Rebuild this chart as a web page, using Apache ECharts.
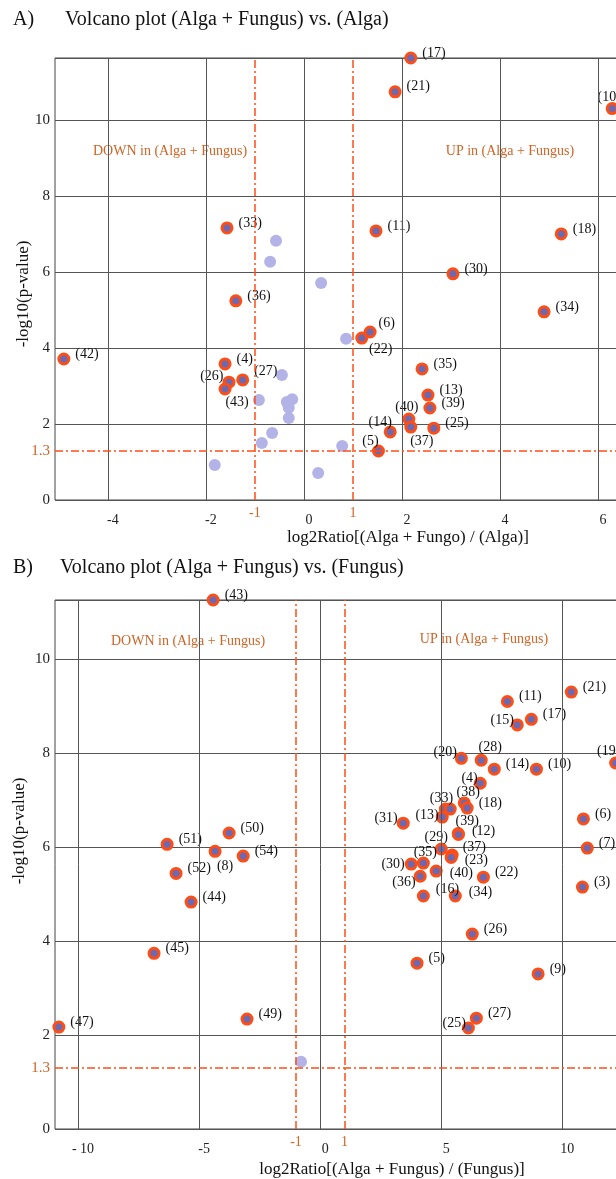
<!DOCTYPE html>
<html>
<head>
<meta charset="utf-8">
<script src="https://cdn.jsdelivr.net/npm/echarts@6/dist/echarts.min.js"></script>
<style>
  html, body { margin: 0; background: #fff; }
  #chart { width: 616px; height: 1179px; }
</style>
</head>
<body>
<div id="chart"></div>
<script>
// A) (Alga + Fungus) vs. (Alga)
const idsA = ["17", "21", "10", "11", "18", "30", "33", "36", "42", "4", "26", "27", "43", "34", "6", "22", "35", "13", "39", "40", "37", "25", "14", "5"];
const xA = [2.18, 1.86, 6.29, 1.47, 5.25, 3.04, -1.57, -1.39, -4.9, -1.61, -1.53, -1.25, -1.61, 4.9, 1.35, 1.18, 2.41, 2.53, 2.57, 2.14, 2.18, 2.65, 1.76, 1.52];
const yA = [11.63, 10.74, 10.3, 7.08, 7.0, 5.95, 7.16, 5.24, 3.71, 3.58, 3.1, 3.16, 2.92, 4.95, 4.42, 4.26, 3.45, 2.76, 2.42, 2.13, 1.92, 1.89, 1.79, 1.29];
const nsXA = [-0.57, -0.69, 0.35, 0.86, 0.78, 0.29, -0.45, -0.92, -0.35, -0.24, -0.31, -0.31, -0.65, -0.86, -1.82];
const nsYA = [6.82, 6.27, 5.71, 4.24, 1.42, 0.71, 3.29, 2.63, 2.58, 2.65, 2.43, 2.16, 1.76, 1.5, 0.92];

// B) (Alga + Fungus) vs. (Fungus)
const idsB = ["43", "51", "50", "8", "54", "52", "44", "45", "47", "49",
  "21", "11", "17", "15", "20", "28", "14", "10", "19", "4", "38", "18", "33", "", "13", "31", "39", "12", "29", "7", "6",
  "37", "23", "35", "30", "40", "36", "22", "16", "34", "3", "26", "5", "9", "27", "25"];
const xB = [-4.42, -6.32, -3.76, -4.34, -3.18, -5.95, -5.33, -6.86, -10.79, -3.02,
  10.37, 7.73, 8.72, 8.14, 5.83, 6.65, 7.19, 8.93, 12.2, 6.61, 5.95, 6.07, 5.17, 5.37, 5.04, 3.43, 5.7, 5.71, 5.0, 11.03, 10.87,
  5.45, 5.41, 4.26, 3.76, 4.79, 4.13, 6.74, 4.26, 5.58, 10.83, 6.28, 4.0, 9.0, 6.45, 6.12];
const yB = [11.26, 6.06, 6.3, 5.91, 5.81, 5.44, 4.83, 3.74, 2.17, 2.34,
  9.3, 9.1, 8.72, 8.6, 7.89, 7.85, 7.66, 7.66, 7.79, 7.36, 6.94, 6.83, 6.81, 6.81, 6.64, 6.51, 6.29, 6.27, 5.96, 5.98, 6.6,
  5.83, 5.78, 5.66, 5.64, 5.49, 5.38, 5.36, 4.96, 4.96, 5.15, 4.15, 3.53, 3.3, 2.36, 2.15];
const nsXB = [-0.79];
const nsYB = [1.43];

// axes
const gridXA = [-4, -2, 0, 2, 4, 6];
const gridXB = [-10, -5, 0, 5, 10];
const tickXA = [-4, -2, -1, 0, 1, 2, 4, 6];
const tickXB = [-10, -5, -1, 0, 1, 5, 10];
const tickY = [0, 1.3, 2, 4, 6, 8, 10];
const foldCut = 1;
const pCut = 1.3;

// label placement: [position, offset]
const placeA = {
  "10": ["top", [-3, 7]], "26": ["left", [6, -6]], "27": ["right", [0, -9]],
  "43": ["bottom", [12, -5]], "6": ["right", [-3, -9]], "22": ["bottom", [19, -7]],
  "40": ["top", [-2, 7]], "37": ["bottom", [11, -4]], "14": ["top", [-10, 9]], "5": ["top", [-8, 9]]
};
const placeB = {
  "8": ["bottom", [10, -4]], "15": ["left", [8, -5]], "20": ["left", [7, -6]], "28": ["top", [9, 6]],
  "19": ["top", [-7, 7]], "4": ["left", [9, -5]], "38": ["top", [4, 8]], "33": ["top", [-4, 8]],
  "13": ["left", [8, -2]], "31": ["left", [6, -5]], "39": ["top", [9, 6]], "12": ["right", [2, -3]],
  "29": ["top", [-5, 7]], "37": ["right", [-1, -8]], "23": ["right", [2, 3]], "35": ["top", [2, 8]],
  "30": ["left", [5, 0]], "40": ["right", [2, 2]], "36": ["left", [7, 6]], "16": ["right", [1, -7]],
  "34": ["right", [2, -4]], "25": ["left", [9, -5]]
};

const FONT = "Liberation Serif";
const ORANGE_TXT = "#cf6425";
const ORANGE_LINE = "#ff4d14";
const GRID_COL = "#555";

function sigData(ids, xs, ys, place) {
  return ids.map(function (id, i) {
    const p = place[id] || ["right", [0, -5]];
    return { name: id, value: [xs[i], ys[i]], label: { position: p[0], offset: p[1] } };
  });
}

function pairs(xs, ys) {
  return xs.map(function (x, i) { return [x, ys[i]]; });
}

function xLabelFmt(v) {
  if (Math.abs(v) === foldCut) return "{o|" + v + "}";
  const s = v <= -10 ? "- " + Math.abs(v) : String(v);
  return "{k|" + s + "}";
}

function makeXAxis(gridIndex, min, max, ticks) {
  return {
    type: "value", gridIndex: gridIndex, min: min, max: max,
    axisLine: { show: false }, axisTick: { show: false }, splitLine: { show: false },
    axisLabel: {
      customValues: ticks, margin: 6, formatter: xLabelFmt,
      rich: {
        k: { color: "#222", fontFamily: FONT, fontSize: 14, padding: [7, 0, 0, 10] },
        o: { color: ORANGE_TXT, fontFamily: FONT, fontSize: 14 }
      }
    }
  };
}

function makeYAxis(gridIndex, max) {
  return {
    type: "value", gridIndex: gridIndex, min: 0, max: max, interval: 2,
    axisLine: { show: false }, axisTick: { show: false },
    splitLine: { show: true, lineStyle: { color: GRID_COL, width: 1 } },
    axisLabel: {
      customValues: tickY, margin: 5, fontFamily: FONT, fontSize: 15, color: "#222",
      formatter: function (v) { return v === pCut ? "{o|" + v + "}" : String(v); },
      rich: { o: { color: ORANGE_TXT, fontFamily: FONT, fontSize: 15 } }
    }
  };
}

function linesSeries(idx, gridX) {
  const data = gridX.map(function (v) {
    return { xAxis: v, lineStyle: { color: GRID_COL, width: 1, type: "solid" } };
  }).concat([
    { xAxis: -foldCut }, { xAxis: foldCut }, { yAxis: pCut }
  ]);
  return {
    type: "scatter", xAxisIndex: idx, yAxisIndex: idx, data: [], z: 1, silent: true,
    markLine: {
      silent: true, symbol: ["none", "none"], animation: false,
      label: { show: false },
      lineStyle: { color: ORANGE_LINE, width: 1.5, type: [8, 3, 2, 3] },
      data: data
    }
  };
}

function nsSeries(idx, xs, ys) {
  return {
    type: "scatter", xAxisIndex: idx, yAxisIndex: idx, z: 2, clip: false,
    symbolSize: 12, itemStyle: { color: "#b3b3e8", opacity: 1 },
    data: pairs(xs, ys)
  };
}

function sigSeries(idx, ids, xs, ys, place) {
  return {
    type: "scatter", xAxisIndex: idx, yAxisIndex: idx, z: 3, clip: false,
    symbolSize: 10,
    itemStyle: { color: "#6a6ab4", borderColor: ORANGE_LINE, borderWidth: 3, opacity: 1 },
    label: {
      show: true, distance: 5, fontFamily: FONT, fontSize: 14, color: "#111",
      formatter: function (p) { return p.name ? "(" + p.name + ")" : ""; }
    },
    data: sigData(ids, xs, ys, place)
  };
}

function txt(x, y, text, size, color, align, rot) {
  return {
    type: "text", x: x, y: y, rotation: rot || 0, silent: true,
    style: {
      text: text, font: size + "px '" + FONT + "'", fill: color,
      textAlign: align || "left", textVerticalAlign: "middle"
    }
  };
}

const chart = echarts.init(document.getElementById("chart"), null, { renderer: "canvas" });
chart.setOption({
  animation: false,
  backgroundColor: "#fff",
  grid: [
    { left: 55, top: 58, width: 592, height: 442, show: true, borderColor: "#444", borderWidth: 1, outerBoundsMode: "none" },
    { left: 55, top: 600, width: 580, height: 529, show: true, borderColor: "#444", borderWidth: 1, outerBoundsMode: "none" }
  ],
  xAxis: [makeXAxis(0, -5.08, 7, tickXA), makeXAxis(1, -10.95, 13, tickXB)],
  yAxis: [makeYAxis(0, 11.63), makeYAxis(1, 11.26)],
  series: [
    linesSeries(0, gridXA),
    nsSeries(0, nsXA, nsYA),
    sigSeries(0, idsA, xA, yA, placeA),
    linesSeries(1, gridXB),
    nsSeries(1, nsXB, nsYB),
    sigSeries(1, idsB, xB, yB, placeB)
  ],
  graphic: [
    txt(13, 20, "A)", 20, "#111"),
    txt(65, 20, "Volcano plot (Alga + Fungus) vs. (Alga)", 20, "#111"),
    txt(24, 294, "-log10(p-value)", 17, "#111", "center", Math.PI / 2),
    txt(408, 538, "log2Ratio[(Alga + Fungo) / (Alga)]", 17, "#111", "center"),
    txt(170, 151, "DOWN in (Alga + Fungus)", 14, ORANGE_TXT, "center"),
    txt(510, 151, "UP in (Alga + Fungus)", 14, ORANGE_TXT, "center"),
    txt(13, 568, "B)", 20, "#111"),
    txt(60, 568, "Volcano plot (Alga + Fungus) vs. (Fungus)", 20, "#111"),
    txt(20, 831, "-log10(p-value)", 17, "#111", "center", Math.PI / 2),
    txt(392, 1170, "log2Ratio[(Alga + Fungus) / (Fungus)]", 17, "#111", "center"),
    txt(188, 641, "DOWN in (Alga + Fungus)", 14, ORANGE_TXT, "center"),
    txt(484, 639, "UP in (Alga + Fungus)", 14, ORANGE_TXT, "center")
  ]
});
</script>
</body>
</html>
